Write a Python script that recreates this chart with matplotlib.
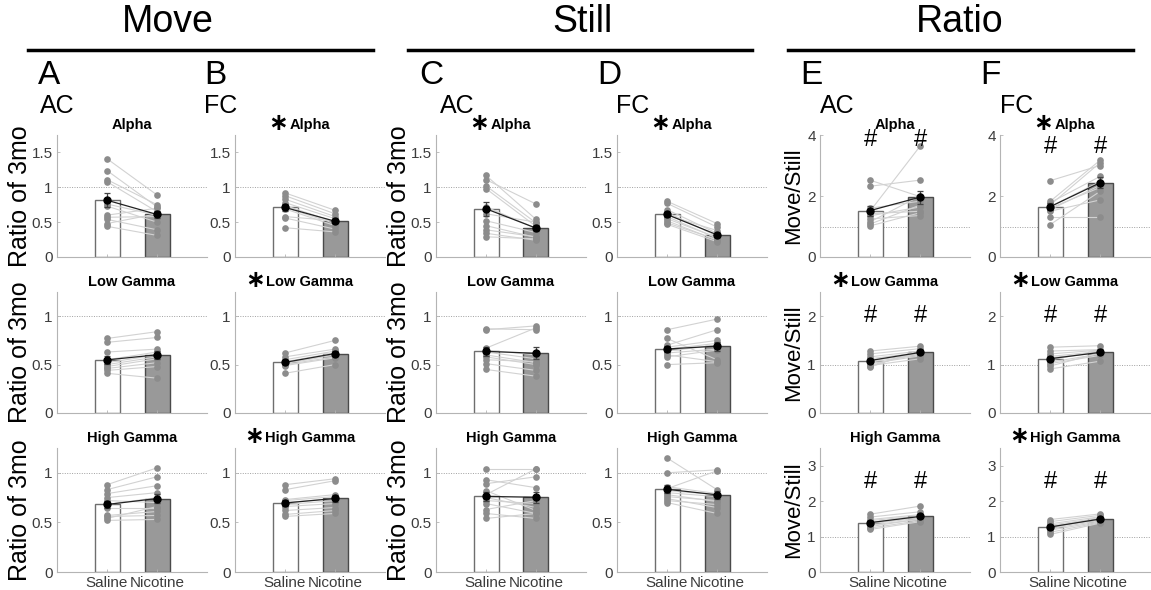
import numpy as np
import matplotlib.pyplot as plt
from matplotlib.lines import Line2D

plt.rcParams['font.family'] = ['Liberation Sans', 'DejaVu Sans']

# %% data, one list per panel and group
groups = ["Saline", "Nicotine"]
bands = ["Alpha", "Low Gamma", "High Gamma"]

# A  Move / AC
a_alpha_sal = [1.41, 1.24, 1.11, 1.08, 0.76, 0.73, 0.60, 0.57, 0.54, 0.48, 0.44]
a_alpha_nic = [0.89, 0.72, 0.75, 0.65, 0.60, 0.50, 0.70, 0.58, 0.39, 0.62, 0.31]
a_low_sal = [0.77, 0.73, 0.63, 0.55, 0.52, 0.50, 0.48, 0.46, 0.44, 0.41]
a_low_nic = [0.84, 0.78, 0.66, 0.63, 0.60, 0.58, 0.56, 0.52, 0.48, 0.36]
a_high_sal = [0.88, 0.83, 0.79, 0.75, 0.72, 0.68, 0.65, 0.57, 0.56, 0.54, 0.52]
a_high_nic = [1.05, 0.96, 0.87, 0.80, 0.70, 0.75, 0.65, 0.61, 0.57, 0.66, 0.53]

# B  Move / FC
b_alpha_sal = [0.92, 0.88, 0.83, 0.78, 0.74, 0.71, 0.69, 0.58, 0.56, 0.42]
b_alpha_nic = [0.67, 0.62, 0.58, 0.55, 0.50, 0.48, 0.45, 0.52, 0.40, 0.36]
b_low_sal = [0.62, 0.58, 0.55, 0.53, 0.52, 0.51, 0.50, 0.49, 0.41]
b_low_nic = [0.75, 0.66, 0.64, 0.62, 0.61, 0.60, 0.58, 0.57, 0.50]
b_high_sal = [0.88, 0.83, 0.73, 0.72, 0.70, 0.68, 0.66, 0.62, 0.58, 0.56]
b_high_nic = [0.94, 0.92, 0.78, 0.76, 0.74, 0.72, 0.69, 0.65, 0.62, 0.59]

# C  Still / AC
c_alpha_sal = [1.17, 1.11, 1.02, 0.98, 0.72, 0.62, 0.52, 0.45, 0.39, 0.34, 0.29]
c_alpha_nic = [0.54, 0.76, 0.49, 0.44, 0.41, 0.50, 0.35, 0.28, 0.29, 0.24, 0.26]
c_low_sal = [0.87, 0.86, 0.67, 0.65, 0.63, 0.60, 0.58, 0.55, 0.51, 0.45]
c_low_nic = [0.86, 0.90, 0.88, 0.60, 0.56, 0.52, 0.50, 0.53, 0.44, 0.38]
c_high_sal = [1.04, 0.93, 0.89, 0.82, 0.78, 0.75, 0.72, 0.69, 0.63, 0.59, 0.54]
c_high_nic = [1.04, 0.85, 0.96, 0.62, 1.04, 0.65, 0.69, 0.59, 0.72, 0.54, 0.59]

# D  Still / FC
d_alpha_sal = [0.80, 0.77, 0.68, 0.64, 0.60, 0.58, 0.55, 0.52, 0.49, 0.47]
d_alpha_nic = [0.48, 0.43, 0.34, 0.30, 0.38, 0.27, 0.28, 0.24, 0.25, 0.22]
d_low_sal = [0.86, 0.77, 0.70, 0.68, 0.66, 0.64, 0.62, 0.60, 0.58, 0.50]
d_low_nic = [0.97, 0.55, 0.86, 0.75, 0.72, 0.70, 0.66, 0.53, 0.65, 0.52]
d_high_sal = [1.15, 1.00, 0.86, 0.84, 0.82, 0.80, 0.78, 0.76, 0.74, 0.72, 0.70]
d_high_nic = [0.83, 1.03, 0.79, 1.02, 0.78, 0.76, 0.71, 0.72, 0.65, 0.68, 0.59]

# E  Ratio / AC
e_alpha_sal = [2.52, 2.32, 1.60, 1.50, 1.42, 1.35, 1.25, 1.15, 1.08, 1.02]
e_alpha_nic = [1.98, 2.52, 1.83, 3.63, 1.50, 1.64, 1.36, 2.00, 1.70, 1.45]
e_low_sal = [1.28, 1.22, 1.16, 1.12, 1.08, 1.05, 1.02, 0.98, 0.98, 0.95]
e_low_nic = [1.38, 1.33, 1.28, 1.25, 1.22, 1.20, 1.18, 1.25, 1.12, 1.30]
e_high_sal = [1.63, 1.55, 1.48, 1.45, 1.40, 1.37, 1.33, 1.28, 1.24, 1.20]
e_high_nic = [1.86, 1.70, 1.62, 1.58, 1.55, 1.52, 1.48, 1.50, 1.45, 1.42]

# F  Ratio / FC
f_alpha_sal = [2.50, 1.82, 1.78, 1.70, 1.65, 1.60, 1.55, 1.50, 1.30, 1.06]
f_alpha_nic = [3.00, 3.17, 2.64, 3.09, 2.47, 2.28, 2.35, 1.87, 1.30, 2.15]
f_low_sal = [1.36, 1.28, 1.22, 1.17, 1.14, 1.10, 1.05, 1.02, 0.97, 0.91]
f_low_nic = [1.39, 1.31, 1.30, 1.27, 1.25, 1.28, 1.22, 1.19, 1.24, 1.07]
f_high_sal = [1.48, 1.42, 1.36, 1.32, 1.28, 1.26, 1.22, 1.18, 1.12, 1.06]
f_high_nic = [1.64, 1.60, 1.56, 1.52, 1.50, 1.48, 1.45, 1.42, 1.40, 1.38]

panel_data = [
    [(a_alpha_sal, a_alpha_nic), (b_alpha_sal, b_alpha_nic), (c_alpha_sal, c_alpha_nic),
     (d_alpha_sal, d_alpha_nic), (e_alpha_sal, e_alpha_nic), (f_alpha_sal, f_alpha_nic)],
    [(a_low_sal, a_low_nic), (b_low_sal, b_low_nic), (c_low_sal, c_low_nic),
     (d_low_sal, d_low_nic), (e_low_sal, e_low_nic), (f_low_sal, f_low_nic)],
    [(a_high_sal, a_high_nic), (b_high_sal, b_high_nic), (c_high_sal, c_high_nic),
     (d_high_sal, d_high_nic), (e_high_sal, e_high_nic), (f_high_sal, f_high_nic)],
]

# significance marks (row, col)
star_panels = [(0, 1), (0, 2), (0, 3), (0, 5), (1, 1), (1, 4), (1, 5), (2, 1), (2, 5)]
hash_cols = [4, 5]
hash_y = [[3.85, 3.6], [2.0, 2.0], [2.55, 2.55]]

# %% layout in pixels
W, H = 1151, 590
fig = plt.figure(figsize=(W / 100, H / 100), dpi=100)

col_left = [57, 235, 436, 617, 820, 1000]
col_w = 150
row_tb = [(135, 257), (292, 413), (448, 572)]

ratio_ylim = [1.75, 1.25, 1.25]
ratio_ticks = [[0, 0.5, 1, 1.5], [0, 0.5, 1], [0, 0.5, 1]]
ms_ylim = [4, 2.5, 3.5]
ms_ticks = [[0, 2, 4], [0, 1, 2], [0, 1, 2, 3]]

axis_gray = '#b4b4b4'
label_gray = '#3c3c3c'
x = np.array([1, 2])

for r in range(3):
    top, bot = row_tb[r]
    for c in range(6):
        ax = fig.add_axes([col_left[c] / W, 1 - bot / H, col_w / W, (bot - top) / H])
        sal, nic = panel_data[r][c]
        sal = np.array(sal)
        nic = np.array(nic)
        means = np.array([sal.mean(), nic.mean()])
        sems = np.array([sal.std(ddof=1) / np.sqrt(len(sal)), nic.std(ddof=1) / np.sqrt(len(nic))])

        ax.axhline(1, color='#a0a0a0', lw=0.7, ls=(0, (1, 1.5)), zorder=0)
        ax.bar(x, means, width=0.5, color=['white', '#999999'],
               edgecolor=['#6e6e6e', '#4a4a4a'], lw=1.0, zorder=1)
        for s, n in zip(sal, nic):
            ax.plot(x, [s, n], color='#d2d2d2', lw=0.8, zorder=2)
        ax.plot(np.full(len(sal), 1), sal, 'o', color='#8c8c8c', ms=4.8, mec='none', zorder=3)
        ax.plot(np.full(len(nic), 2), nic, 'o', color='#8c8c8c', ms=4.8, mec='none', zorder=3)
        ax.errorbar(x, means, yerr=sems, color='#222222', ecolor='#444444', marker='o',
                    ms=5, mfc='black', mec='black', lw=0.9, elinewidth=0.9,
                    capsize=2, capthick=0.9, zorder=4)

        ax.set_xlim(0, 3)
        if c < 4:
            ax.set_ylim(0, ratio_ylim[r])
            ax.set_yticks(ratio_ticks[r])
            ax.set_yticklabels([f'{t:g}' for t in ratio_ticks[r]])
        else:
            ax.set_ylim(0, ms_ylim[r])
            ax.set_yticks(ms_ticks[r])
        ax.set_xticks(x)
        if r == 2:
            ax.set_xticklabels(groups, fontsize=11, color=label_gray)
        else:
            ax.set_xticklabels([])

        for sp in ['top', 'right']:
            ax.spines[sp].set_visible(False)
        for sp in ['left', 'bottom']:
            ax.spines[sp].set_color(axis_gray)
            ax.spines[sp].set_linewidth(0.8)
        ax.tick_params(direction='in', length=2, width=0.6, color=axis_gray,
                       labelsize=11, labelcolor=label_gray, pad=3)
        ax.patch.set_alpha(0)

        t = ax.set_title(bands[r], fontsize=10.5, fontweight='bold', pad=4)
        if (r, c) in star_panels:
            ax.annotate('\u2217', xy=(0, 0.5), xycoords=t, xytext=(-1, 1.5),
                        textcoords='offset points', ha='right', va='center',
                        fontsize=17, fontweight='bold', family='DejaVu Sans')

        if c in hash_cols:
            for xi in x:
                ax.text(xi, hash_y[r][c - 4], '#', ha='center', va='center', fontsize=17)

        if c == 0 or c == 2:
            ax.set_ylabel('Ratio of 3mo', fontsize=18, labelpad=0)
        if c == 4:
            ax.set_ylabel('Move/Still', fontsize=16, labelpad=2)

# %% headers
headers = [("Move", 168, 28, 373), ("Still", 582, 408, 752), ("Ratio", 960, 788, 1133)]
for name, cx, x0, x1 in headers:
    fig.text(cx / W, 1 - 22 / H, name, ha='center', va='center', fontsize=27)
    fig.add_artist(Line2D([x0 / W, x1 / W], [1 - 50 / H, 1 - 50 / H], color='black', lw=2.5))

letters = ["A", "B", "C", "D", "E", "F"]
letter_x = [38, 204, 419, 597, 800, 980]
for L, lx in zip(letters, letter_x):
    fig.text(lx / W, 1 - 76 / H, L, ha='left', va='center', fontsize=24)

regions = ["AC", "FC", "AC", "FC", "AC", "FC"]
region_x = [40, 204, 440, 616, 820, 1000]
for rg, rx in zip(regions, region_x):
    fig.text(rx / W, 1 - 106 / H, rg, ha='left', va='center', fontsize=18)

fig.savefig('out.png', dpi=100)
